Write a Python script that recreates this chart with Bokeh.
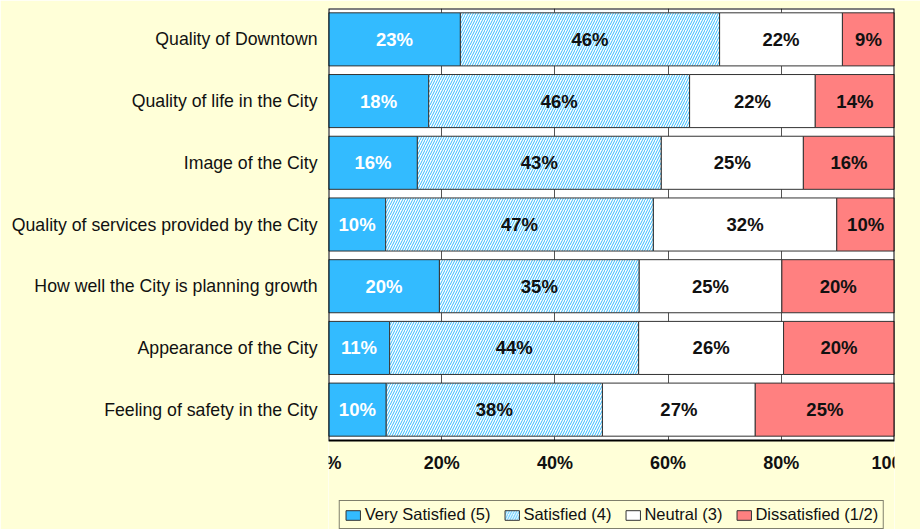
from bokeh.plotting import figure
from bokeh.models import (ColumnDataSource, Legend, LegendItem, FixedTicker, Range1d,
                          BoxAnnotation)
from bokeh.core.properties import value
from bokeh.embed import file_html
from bokeh.resources import INLINE

categories = [
    "Quality of Downtown",
    "Quality of life in the City",
    "Image of the City",
    "Quality of services provided by the City",
    "How well the City is planning growth",
    "Appearance of the City",
    "Feeling of safety in the City",
]
very_satisfied = [23.3, 17.7, 15.7, 10.1, 19.6, 10.8, 10.2]
satisfied = [45.8, 46.1, 43.1, 47.3, 35.3, 44.0, 38.2]
neutral = [21.7, 22.2, 25.1, 32.4, 25.2, 25.6, 27.0]
dissatisfied = [9.2, 14.0, 16.1, 10.2, 19.9, 19.6, 24.6]
series_names = ["Very Satisfied (5)", "Satisfied (4)", "Neutral (3)", "Dissatisfied (1/2)"]
x_ticks = [0, 20, 40, 60, 80, 100]
x_tick_labels = ["0%", "20%", "40%", "60%", "80%", "100%"]

FONT = "Liberation Sans"
BG = "#FFFFD8"

n = len(categories)
ypos = [n - 1 - i for i in range(n)]          # top category drawn highest
bars_px = 432.0                               # height of the bar area in pixels
frame_px = 521                                # frame extends down to hold the legend
unit = bars_px / n
y_top = n - 0.5
y_start = y_top - frame_px / unit

p = figure(
    frame_width=566, frame_height=frame_px,
    y_range=Range1d(y_start, y_top),
    x_range=Range1d(0, 100),
    output_backend="svg", toolbar_location=None,
    min_border_left=328, min_border_right=26, min_border_top=8, min_border_bottom=0,
)
p.border_fill_color = BG
p.background_fill_color = "white"
p.outline_line_color = None

series = [very_satisfied, satisfied, neutral, dissatisfied]
fills = ["#33BBFF", "white", "white", "#FF8080"]
text_colors = ["white", "#111111", "#111111", "#111111"]

left = [0.0] * n
renderers = []
label_x, label_y, label_t, label_c = [], [], [], []
for i, vals in enumerate(series):
    right = [l + v for l, v in zip(left, vals)]
    src = ColumnDataSource(dict(y=ypos, left=left, right=right))
    kw = dict(y="y", left="left", right="right", height=0.86, source=src,
              fill_color=fills[i], line_color="#333333", line_width=1)
    if i == 1:
        kw.update(hatch_pattern="/", hatch_color="#33BBFF", hatch_scale=5, hatch_weight=1.0)
    r = p.hbar(**kw)
    renderers.append(r)
    for yy, l, rr, v in zip(ypos, left, right, vals):
        label_x.append((l + rr) / 2)
        label_y.append(yy)
        label_t.append(f"{round(v)}%")
        label_c.append(text_colors[i])
    left = right

lsrc = ColumnDataSource(dict(x=label_x, y=label_y, t=label_t, c=label_c))
p.text(x="x", y="y", text="t", source=lsrc, text_color="c", text_align="center",
       text_baseline="middle", text_font=value(FONT), text_font_style="bold",
       text_font_size="18.5px")

p.ygrid.grid_line_color = None
p.xgrid.ticker = FixedTicker(ticks=[20, 40, 60, 80])
p.xgrid.grid_line_color = "#555555"
p.xgrid.grid_line_width = 1

# cover the lower part of the frame (legend area) with the page colour
bg_box = BoxAnnotation(top=-0.5, fill_color=BG, fill_alpha=1.0, line_color=None,
                       level="underlay")
p.add_layout(bg_box)
# black border around the bar area
border_box = BoxAnnotation(bottom=-0.5, fill_color=None, fill_alpha=0.0,
                           line_color="black", line_width=2, line_alpha=1.0)
p.add_layout(border_box)

xa = p.xaxis[0]
xa.fixed_location = -0.5
xa.ticker = FixedTicker(ticks=x_ticks)
xa.major_label_overrides = {t: s for t, s in zip(x_ticks, x_tick_labels)}
xa.axis_line_color = None
xa.major_tick_line_color = None
xa.minor_tick_line_color = None
xa.major_tick_out = 0
xa.major_tick_in = 0
xa.major_label_text_font = FONT
xa.major_label_text_font_style = "bold"
xa.major_label_text_font_size = "18px"
xa.major_label_text_color = "#111111"
xa.major_label_standoff = 12

ya = p.yaxis[0]
ya.ticker = FixedTicker(ticks=ypos)
ya.major_label_overrides = {yy: c for yy, c in zip(ypos, categories)}
ya.axis_line_color = None
ya.major_tick_line_color = None
ya.minor_tick_line_color = None
ya.major_tick_out = 0
ya.major_tick_in = 0
ya.major_label_text_font = FONT
ya.major_label_text_font_size = "17.7px"
ya.major_label_text_color = "#111111"
ya.major_label_standoff = 11

items = [LegendItem(label=nm, renderers=[r]) for nm, r in zip(series_names, renderers)]
legend = Legend(items=items, orientation="horizontal", location="bottom_center",
                label_text_font=FONT, label_text_font_size="16.5px", label_text_color="#111111",
                glyph_width=18, glyph_height=12, label_standoff=3, spacing=12, padding=4,
                border_line_color="black", border_line_width=1,
                background_fill_color=BG, background_fill_alpha=1.0, margin=0)
p.add_layout(legend, "center")

open("out.html", "w").write(file_html(p, INLINE))
